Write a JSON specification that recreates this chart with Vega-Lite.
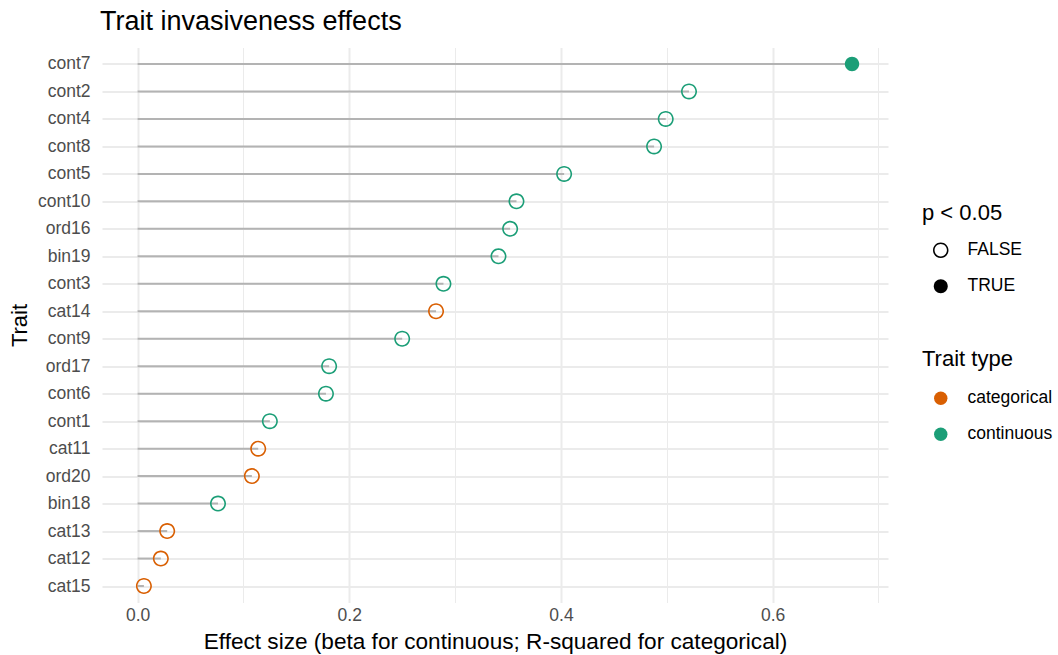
{
  "$schema": "https://vega.github.io/schema/vega-lite/v6.json",
  "width": 786,
  "height": 555,
  "autosize": {"type": "none"},
  "padding": {"left": 102, "top": 47.5, "right": 170, "bottom": 52.5},
  "background": "white",
  "config": {"view": {"stroke": null}},
  "title": {
    "text": "Trait invasiveness effects",
    "anchor": "start",
    "frame": "group",
    "font": "Liberation Sans",
    "fontSize": 27,
    "fontWeight": "normal",
    "color": "black",
    "offset": 12,
    "dx": -2
  },
  "data": {
    "values": [
      {"trait": "cont7", "effect": 0.675, "type": "continuous", "sig": "TRUE"},
      {"trait": "cont2", "effect": 0.521, "type": "continuous", "sig": "FALSE"},
      {"trait": "cont4", "effect": 0.499, "type": "continuous", "sig": "FALSE"},
      {"trait": "cont8", "effect": 0.488, "type": "continuous", "sig": "FALSE"},
      {"trait": "cont5", "effect": 0.403, "type": "continuous", "sig": "FALSE"},
      {"trait": "cont10", "effect": 0.358, "type": "continuous", "sig": "FALSE"},
      {"trait": "ord16", "effect": 0.352, "type": "continuous", "sig": "FALSE"},
      {"trait": "bin19", "effect": 0.341, "type": "continuous", "sig": "FALSE"},
      {"trait": "cont3", "effect": 0.289, "type": "continuous", "sig": "FALSE"},
      {"trait": "cat14", "effect": 0.282, "type": "categorical", "sig": "FALSE"},
      {"trait": "cont9", "effect": 0.250, "type": "continuous", "sig": "FALSE"},
      {"trait": "ord17", "effect": 0.181, "type": "continuous", "sig": "FALSE"},
      {"trait": "cont6", "effect": 0.178, "type": "continuous", "sig": "FALSE"},
      {"trait": "cont1", "effect": 0.125, "type": "continuous", "sig": "FALSE"},
      {"trait": "cat11", "effect": 0.114, "type": "categorical", "sig": "FALSE"},
      {"trait": "ord20", "effect": 0.108, "type": "categorical", "sig": "FALSE"},
      {"trait": "bin18", "effect": 0.076, "type": "continuous", "sig": "FALSE"},
      {"trait": "cat13", "effect": 0.028, "type": "categorical", "sig": "FALSE"},
      {"trait": "cat12", "effect": 0.022, "type": "categorical", "sig": "FALSE"},
      {"trait": "cat15", "effect": 0.006, "type": "categorical", "sig": "FALSE"}
    ]
  },
  "encoding": {
    "y": {
      "field": "trait",
      "type": "nominal",
      "sort": {"field": "effect", "order": "descending"},
      "scale": {"type": "point", "padding": 0.6},
      "axis": {
        "title": "Trait",
        "titleFont": "Liberation Sans",
        "titleFontSize": 22,
        "titleFontWeight": "normal",
        "titleColor": "black",
        "titlePadding": 6,
        "labelFont": "Liberation Sans",
        "labelFontSize": 17.5,
        "labelColor": "#4D4D4D",
        "labelPadding": 12,
        "ticks": false,
        "domain": false,
        "grid": true,
        "gridColor": "#EBEBEB",
        "gridWidth": 2
      }
    },
    "x": {
      "field": "effect",
      "type": "quantitative",
      "scale": {"domain": [-0.0336, 0.709], "nice": false, "zero": false},
      "axis": {
        "title": "Effect size (beta for continuous; R-squared for categorical)",
        "titleFont": "Liberation Sans",
        "titleFontSize": 22.6,
        "titleFontWeight": "normal",
        "titleColor": "black",
        "titlePadding": 6,
        "labelFont": "Liberation Sans",
        "labelFontSize": 17.5,
        "labelColor": "#4D4D4D",
        "labelPadding": 4,
        "values": [0, 0.1, 0.2, 0.3, 0.4, 0.5, 0.6, 0.7],
        "labelExpr": "round(datum.value * 10) % 2 == 0 ? format(datum.value, '.1f') : ''",
        "ticks": false,
        "domain": false,
        "grid": true,
        "gridColor": "#EBEBEB",
        "gridWidth": {"condition": {"test": "round(datum.value * 10) % 2 == 0", "value": 2}, "value": 1}
      }
    }
  },
  "layer": [
    {
      "mark": {"type": "rule", "color": "#B3B3B3", "strokeWidth": 2},
      "encoding": {"x2": {"datum": 0}}
    },
    {
      "mark": {"type": "point", "filled": true, "size": 256, "strokeWidth": 0, "opacity": 1},
      "encoding": {
        "shape": {
          "field": "sig",
          "type": "nominal",
          "scale": {
            "domain": ["FALSE", "TRUE"],
            "range": [
              "M 1 0 A 1 1 0 1 1 -1 0 A 1 1 0 1 1 1 0 Z M 0.8 0 A 0.8 0.8 0 1 0 -0.8 0 A 0.8 0.8 0 1 0 0.8 0 Z",
              "M 0.9 0 A 0.9 0.9 0 1 1 -0.9 0 A 0.9 0.9 0 1 1 0.9 0 Z"
            ]
          },
          "legend": {
            "title": "p < 0.05",
            "orient": "none",
            "legendX": 820,
            "legendY": 155,
            "titleFont": "Liberation Sans",
            "titleFontSize": 22,
            "titleFontWeight": "normal",
            "titleColor": "black",
            "titlePadding": 17,
            "labelFont": "Liberation Sans",
            "labelFontSize": 17.5,
            "labelColor": "black",
            "labelOffset": 18,
            "symbolSize": 240,
            "symbolOffset": 10,
            "rowPadding": 17,
            "symbolStrokeWidth": 0,
            "symbolFillColor": "black"
          }
        },
        "fill": {
          "field": "type",
          "type": "nominal",
          "scale": {"domain": ["categorical", "continuous"], "range": ["#D95F02", "#1B9E77"]},
          "legend": {
            "title": "Trait type",
            "orient": "none",
            "legendX": 820,
            "legendY": 301,
            "titleFont": "Liberation Sans",
            "titleFontSize": 22,
            "titleFontWeight": "normal",
            "titleColor": "black",
            "titlePadding": 19,
            "labelFont": "Liberation Sans",
            "labelFontSize": 17.5,
            "labelColor": "black",
            "labelOffset": 18,
            "symbolSize": 180,
            "symbolOffset": 10,
            "rowPadding": 17,
            "symbolType": "circle",
            "symbolStrokeWidth": 0
          }
        }
      }
    }
  ]
}
